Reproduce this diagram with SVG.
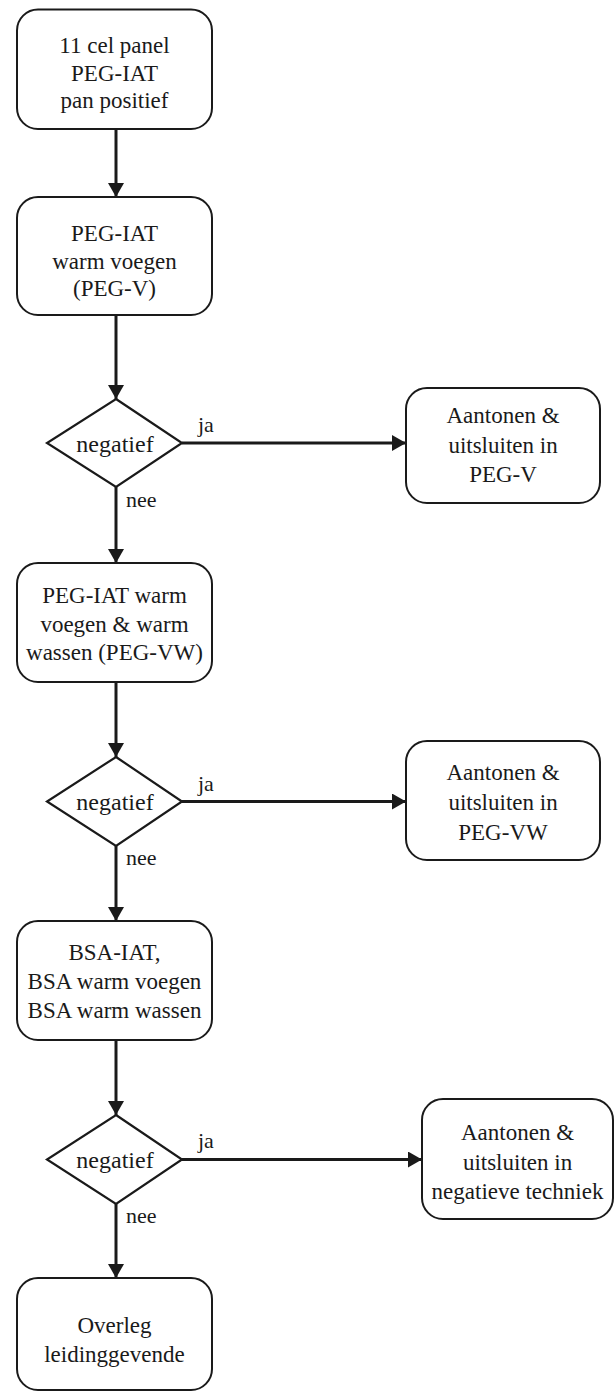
<svg xmlns="http://www.w3.org/2000/svg" width="615" height="1392" viewBox="0 0 615 1392">
<style>
.box{fill:#fff;stroke:#1a1a1a;stroke-width:2}
.dia{fill:#fff;stroke:#1a1a1a;stroke-width:2.2}
.t{font-family:'Liberation Serif','Times New Roman',serif;font-size:23px;fill:#1a1a1a;text-anchor:middle}
.n{font-family:'Liberation Serif','Times New Roman',serif;font-size:24px;fill:#1a1a1a;text-anchor:middle}
.l{font-family:'Liberation Serif','Times New Roman',serif;font-size:22px;fill:#1a1a1a}
.c{fill:none;stroke:#1a1a1a;stroke-width:3}
</style>
<defs>
<marker id="ah" viewBox="0 0 14 16" refX="14" refY="8" markerWidth="14" markerHeight="16" markerUnits="userSpaceOnUse" orient="auto">
<path d="M0,0 L14,8 L0,16 z" fill="#1a1a1a"/>
</marker>
</defs>
<g id="connectors">
<line class="c" x1="116" y1="129" x2="116" y2="197" marker-end="url(#ah)"/>
<line class="c" x1="116" y1="315" x2="116" y2="399" marker-end="url(#ah)"/>
<line class="c" x1="116" y1="487" x2="116" y2="563" marker-end="url(#ah)"/>
<line class="c" x1="116" y1="682" x2="116" y2="757" marker-end="url(#ah)"/>
<line class="c" x1="116" y1="846" x2="116" y2="921" marker-end="url(#ah)"/>
<line class="c" x1="116" y1="1040" x2="116" y2="1115" marker-end="url(#ah)"/>
<line class="c" x1="116" y1="1204" x2="116" y2="1278" marker-end="url(#ah)"/>
<line class="c" x1="182" y1="443" x2="406" y2="443" marker-end="url(#ah)"/>
<line class="c" x1="182" y1="801.5" x2="406" y2="801.5" marker-end="url(#ah)"/>
<line class="c" x1="182" y1="1159.5" x2="422" y2="1159.5" marker-end="url(#ah)"/>
<text class="l" x="198" y="432">ja</text>
<text class="l" x="126" y="507">nee</text>
<text class="l" x="198" y="791">ja</text>
<text class="l" x="126" y="865">nee</text>
<text class="l" x="198" y="1148">ja</text>
<text class="l" x="126" y="1223">nee</text>
</g>
<g id="box1">
<rect class="box" x="17" y="9.5" width="195" height="119.5" rx="21"/>
<text class="t" x="114.5" y="53">11 cel panel</text>
<text class="t" x="114.5" y="81">PEG-IAT</text>
<text class="t" x="114.5" y="108">pan positief</text>
</g>
<g id="box2">
<rect class="box" x="17" y="197" width="195" height="118" rx="21"/>
<text class="t" x="114.5" y="241">PEG-IAT</text>
<text class="t" x="114.5" y="269">warm voegen</text>
<text class="t" x="114.5" y="296">(PEG-V)</text>
</g>
<g id="dec1">
<polygon class="dia" points="116,399 182,443 116,487 47,443"/>
<text class="n" x="115" y="452">negatief</text>
</g>
<g id="res1">
<rect class="box" x="406" y="388" width="194" height="115" rx="21"/>
<text class="t" x="503" y="423">Aantonen &amp;</text>
<text class="t" x="503" y="453">uitsluiten in</text>
<text class="t" x="503" y="482">PEG-V</text>
</g>
<g id="box3">
<rect class="box" x="17" y="563" width="195" height="119" rx="21"/>
<text class="t" x="114.5" y="603">PEG-IAT warm</text>
<text class="t" x="114.5" y="632">voegen &amp; warm</text>
<text class="t" x="114.5" y="660">wassen (PEG-VW)</text>
</g>
<g id="dec2">
<polygon class="dia" points="116,757 182,801.5 116,846 47,801.5"/>
<text class="n" x="115" y="810">negatief</text>
</g>
<g id="res2">
<rect class="box" x="406" y="741" width="194" height="119" rx="21"/>
<text class="t" x="503" y="780">Aantonen &amp;</text>
<text class="t" x="503" y="810">uitsluiten in</text>
<text class="t" x="503" y="840">PEG-VW</text>
</g>
<g id="box4">
<rect class="box" x="17" y="921" width="195" height="119" rx="21"/>
<text class="t" x="114.5" y="960">BSA-IAT,</text>
<text class="t" x="114.5" y="989">BSA warm voegen</text>
<text class="t" x="114.5" y="1018">BSA warm wassen</text>
</g>
<g id="dec3">
<polygon class="dia" points="116,1115 182,1159.5 116,1204 47,1159.5"/>
<text class="n" x="115" y="1168">negatief</text>
</g>
<g id="res3">
<rect class="box" x="422" y="1099" width="191" height="120" rx="21"/>
<text class="t" x="517.5" y="1140">Aantonen &amp;</text>
<text class="t" x="517.5" y="1170">uitsluiten in</text>
<text class="t" x="517.5" y="1199">negatieve techniek</text>
</g>
<g id="box5">
<rect class="box" x="17" y="1278" width="195" height="112" rx="21"/>
<text class="t" x="114.5" y="1333">Overleg</text>
<text class="t" x="114.5" y="1362">leidinggevende</text>
</g>
</svg>
